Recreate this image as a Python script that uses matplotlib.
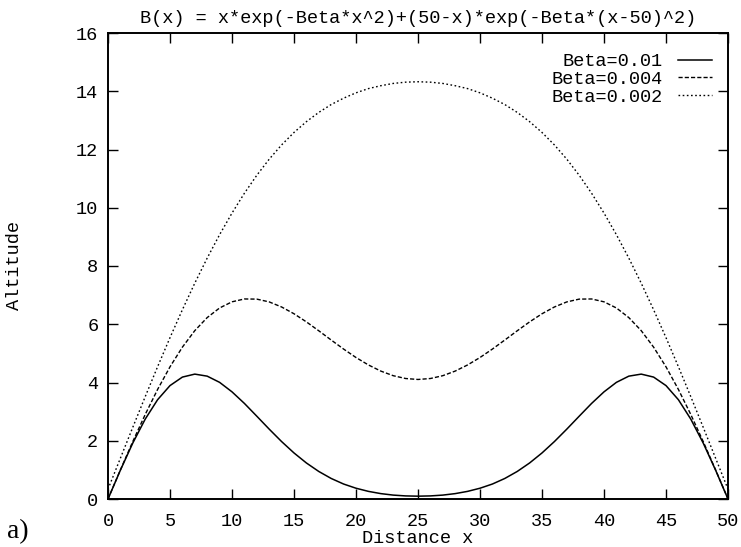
import numpy as np
import matplotlib
matplotlib.use('Agg')
import matplotlib.pyplot as plt

plt.rcParams['font.family'] = ['Liberation Mono', 'DejaVu Sans Mono']

x = list(range(0, 51))

# Beta = 0.01
b001 = [0.000, 0.990, 1.922, 2.742, 3.409, 3.894, 4.186, 4.288, 4.218, 4.005,
        3.679, 3.282, 2.843, 2.399, 1.972, 1.581, 1.237, 0.945, 0.705, 0.514,
        0.370, 0.262, 0.185, 0.134, 0.106, 0.097, 0.106, 0.134, 0.185, 0.262,
        0.370, 0.514, 0.705, 0.945, 1.237, 1.581, 1.972, 2.399, 2.843, 3.282,
        3.679, 4.005, 4.218, 4.288, 4.186, 3.894, 3.409, 2.742, 1.922, 0.990,
        0.000]
# Beta = 0.004
b0004 = [0.000, 0.999, 1.973, 2.901, 3.762, 4.538, 5.214, 5.781, 6.229, 6.559,
         6.770, 6.868, 6.863, 6.767, 6.593, 6.360, 6.081, 5.775, 5.458, 5.148,
         4.858, 4.603, 4.392, 4.234, 4.137, 4.104, 4.137, 4.234, 4.392, 4.603,
         4.858, 5.148, 5.458, 5.775, 6.081, 6.360, 6.593, 6.767, 6.863, 6.868,
         6.770, 6.559, 6.229, 5.781, 5.214, 4.538, 3.762, 2.901, 1.973, 0.999,
         0.000]
# Beta = 0.002
b0002 = [0.337, 1.401, 2.463, 3.513, 4.542, 5.540, 6.499, 7.412, 8.272, 9.076,
         9.817, 10.498, 11.115, 11.668, 12.157, 12.585, 12.956, 13.274, 13.544, 13.762,
         13.946, 14.091, 14.190, 14.268, 14.312, 14.326, 14.312, 14.268, 14.190, 14.091,
         13.946, 13.762, 13.544, 13.274, 12.956, 12.585, 12.157, 11.668, 11.115, 10.498,
         9.817, 9.076, 8.272, 7.412, 6.499, 5.540, 4.542, 3.513, 2.463, 1.401,
         0.337]

labels = ['Beta=0.01', 'Beta=0.004', 'Beta=0.002']
xticks = list(range(0, 51, 5))
yticks = list(range(0, 17, 2))

fs = 13.4
fig = plt.figure(figsize=(7.41, 5.47), dpi=100)
ax = fig.add_axes([108/741, 1-499/547, 620/741, 466/547])

ax.plot(x, b001, color='black', lw=1.1, ls='-', label=labels[0])
ax.plot(x, b0004, color='black', lw=1.0, ls=(0, (3, 1.5)), label=labels[1])
ax.plot(x, b0002, color='black', lw=1.0, ls=(0, (1.2, 1.8)), label=labels[2])

ax.set_xlim(0, 50)
ax.set_ylim(0, 16)
ax.set_xticks(xticks)
ax.set_yticks(yticks)
ax.tick_params(direction='in', length=7, width=1, top=True, right=True,
               labelsize=fs, colors='black')
ax.tick_params(axis='x', pad=10)
ax.tick_params(axis='y', pad=7)
for s in ax.spines.values():
    s.set_linewidth(1.4)

ax.set_title('B(x) = x*exp(-Beta*x^2)+(50-x)*exp(-Beta*(x-50)^2)', fontsize=fs, pad=7)
ax.set_xlabel('Distance x', fontsize=fs, labelpad=0)
ax.set_ylabel('Altitude', fontsize=fs, labelpad=38)

leg = ax.legend(loc='upper right', frameon=False, markerfirst=False, fontsize=fs,
                handlelength=1.85, labelspacing=0.05, handletextpad=0.8,
                borderaxespad=0.0, borderpad=0.0,
                bbox_to_anchor=(1 - 16/620, 1 - 20/466))

fig.text(7/741, 1-538/547, 'a)', fontsize=20, family='Liberation Serif')

fig.savefig('out.png', dpi=100)
